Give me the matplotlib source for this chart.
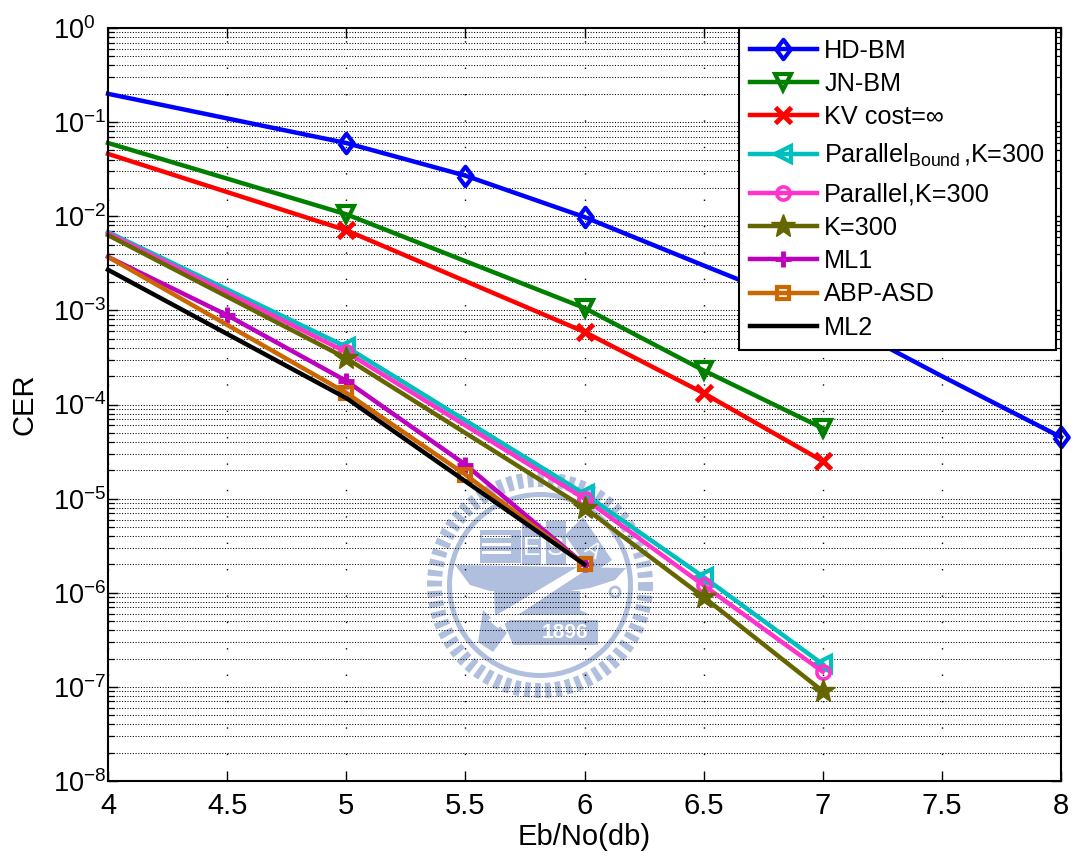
import numpy as np
import matplotlib
matplotlib.use('Agg')
import matplotlib.pyplot as plt
from matplotlib.patches import Circle, Polygon, Wedge
from matplotlib.ticker import LogLocator, NullFormatter, FixedLocator

plt.rcParams['font.family'] = ['Liberation Sans', 'DejaVu Sans']
plt.rcParams['mathtext.fontset'] = 'custom'
plt.rcParams['mathtext.rm'] = 'Liberation Sans'

x_hd = [4, 5, 5.5, 6, 6.5, 7, 7.5, 8]
hd_bm = [0.2, 0.06, 0.027, 0.0098, 3.0e-3, 9.3e-4, 2.0e-4, 4.5e-5]
x_jn = [4, 5, 6, 6.5, 7]
jn_bm = [0.06, 0.0105, 0.00106, 2.3e-4, 5.6e-5]
kv = [0.046, 0.0071, 5.9e-4, 1.32e-4, 2.5e-5]
par_bound = [0.0068, 4.1e-4, 1.12e-5, 1.47e-6, 1.74e-7]
par_k300 = [0.0066, 3.6e-4, 1.0e-5, 1.2e-6, 1.45e-7]
k300 = [0.0063, 3.1e-4, 8.0e-6, 9.0e-7, 9.0e-8]
x_ml1 = [4, 4.5, 5, 5.5, 6]
ml1 = [0.0037, 8.9e-4, 1.78e-4, 2.3e-5, 2.0e-6]
x_abp = [4, 5, 5.5, 6]
abp = [0.0037, 1.33e-4, 1.8e-5, 2.0e-6]
x_ml2 = [4, 5, 6]
ml2 = [0.0027, 1.17e-4, 2.0e-6]
x_ticks = [4, 4.5, 5, 5.5, 6, 6.5, 7, 7.5, 8]
x_tick_labels = ['4', '4.5', '5', '5.5', '6', '6.5', '7', '7.5', '8']
y_ticks = [1e-8, 1e-7, 1e-6, 1e-5, 1e-4, 1e-3, 1e-2, 1e-1, 1]

DIAMOND = [(-0.75, 0), (0, 1), (0.75, 0), (0, -1), (-0.75, 0)]


def seal(fig):
    # school watermark, drawn in figure pixels
    c = '#b0bfdd'
    cx, cy = 540, 856 - 585

    def P(pts):
        return [(a, 856 - b) for a, b in pts]

    arts = []
    for ang in np.arange(0, 360, 5.6):
        arts.append(Wedge((cx, cy), 113, ang - 1.6, ang + 1.6, width=15, fc=c, ec='none'))
    arts.append(Circle((cx, cy), 90.5, fc='none', ec=c, lw=3.6))
    # book, blocks, diamond
    arts.append(Polygon(P([(480, 530), (521, 530), (521, 563), (480, 563)]), fc=c))
    arts.append(Polygon(P([(522, 523), (541, 523), (541, 565), (522, 565)]), fc=c))
    arts.append(Polygon(P([(546, 521), (566, 521), (566, 565), (546, 565)]), fc=c))
    arts.append(Polygon(P([(583, 517), (612, 560), (592, 574), (565, 535)]), fc=c))
    # anvil
    arts.append(Polygon(P([(455, 565), (626, 568), (615, 580), (590, 588), (570, 591), (490, 591), (470, 585)]), fc=c))
    arts.append(Polygon(P([(494, 591), (580, 591), (580, 610), (590, 615), (495, 615)]), fc=c))
    # hammer and 1896 plate
    arts.append(Polygon(P([(503, 620), (598, 620), (598, 645), (513, 645)]), fc=c))
    arts.append(Polygon(P([(483, 610), (507, 633), (493, 652), (478, 642)]), fc=c))
    arts.append(Circle((615, 856 - 592), 5, fc='none', ec=c, lw=2))
    for a in arts:
        a.set_transform(None)
        a.set_zorder(1)
        fig.add_artist(a)
    for pts in ([(584, 563), (592, 566), (498, 628), (488, 620)],
                [(482, 535), (511, 535), (511, 538), (482, 538)],
                [(482, 543), (511, 543), (511, 546), (482, 546)],
                [(482, 551), (511, 551), (511, 554), (482, 554)]):
        w = Polygon(P(pts), fc='white', ec='none', zorder=1.5)
        w.set_transform(None)
        fig.add_artist(w)
    fig.text(565 / 1074, 1 - 632 / 856, '1896', color='white', fontsize=15, fontweight='bold',
             ha='center', va='center', zorder=2)
    fig.text(532 / 1074, 1 - 548 / 856, 'E', color='white', fontsize=19, ha='center', va='center', zorder=2)
    fig.text(556 / 1074, 1 - 548 / 856, 'S', color='white', fontsize=19, ha='center', va='center', zorder=2)
    fig.text(592 / 1074, 1 - 551 / 856, 'A', color='white', fontsize=16, rotation=-35,
             ha='center', va='center', zorder=2)


def main():
    fig = plt.figure(figsize=(10.74, 8.56), dpi=100)
    ax = fig.add_axes([108 / 1074, 1 - 781 / 856, 953 / 1074, 753 / 856])
    ax.patch.set_alpha(0)
    seal(fig)
    ax.set_zorder(3)

    lw = 3.2
    ms = 11
    mew = 3
    ev = [1, 2, 3, 4]
    ax.plot(x_hd, hd_bm, color='#0000ff', lw=lw, marker=DIAMOND, ms=ms + 3, mfc='none', mew=mew,
            markevery=[1, 2, 3, 7], label='HD-BM')
    ax.plot(x_jn, jn_bm, color='#007f00', lw=lw, marker='v', ms=ms, mfc='none', mew=mew, markevery=ev, label='JN-BM')
    ax.plot(x_jn, kv, color='#ff0000', lw=lw, marker='x', ms=ms, mew=mew + 0.5, markevery=ev, label='KV cost=∞')
    ax.plot(x_jn, par_bound, color='#00bfbf', lw=lw, marker='<', ms=ms, mfc='none', mew=mew, markevery=ev,
            label=r'Parallel$_{\mathrm{Bound}\,}$,K=300')
    ax.plot(x_jn, par_k300, color='#ff33cc', lw=lw, marker='o', ms=9.5, mfc='none', mew=mew - 0.4, markevery=ev,
            label='Parallel,K=300')
    ax.plot(x_jn, k300, color='#666600', lw=lw, marker='*', ms=ms + 7, mew=1, markevery=ev, label='K=300')
    ax.plot(x_ml1, ml1, color='#bf00bf', lw=lw, marker='+', ms=ms, mew=mew + 0.5, markevery=ev, label='ML1')
    ax.plot(x_abp, abp, color='#cc6600', lw=lw, marker='s', ms=8, mfc='none', mew=mew, markevery=[1, 2, 3], label='ABP-ASD')
    ax.plot(x_ml2, ml2, color='black', lw=lw, label='ML2')
    for ln in ax.get_lines():
        ln.set_clip_on(False)

    ax.set_yscale('log')
    ax.set_xlim(4, 8)
    ax.set_ylim(1e-8, 1)
    ax.xaxis.set_major_locator(FixedLocator(x_ticks))
    ax.set_xticklabels(x_tick_labels)
    ax.yaxis.set_major_locator(FixedLocator(y_ticks))
    ax.yaxis.set_minor_locator(LogLocator(base=10, subs=np.arange(2, 10), numticks=12))
    ax.yaxis.set_minor_formatter(NullFormatter())
    ax.grid(True, which='major', axis='y', color='black', ls=(0, (1, 1.6)), lw=0.75)
    ax.grid(True, which='minor', axis='y', color='black', ls=(0, (1, 1.6)), lw=0.75)
    ax.grid(True, which='major', axis='x', color='black', ls=(0, (1, 18)), lw=1)
    ax.set_axisbelow(True)
    ax.tick_params(axis='x', which='major', direction='in', length=7, width=1.0, labelsize=21, top=True, pad=8)
    ax.tick_params(axis='y', which='major', direction='in', length=7, width=1.0, labelsize=19.5, right=True, pad=39.6)
    ax.tick_params(axis='y', which='minor', direction='in', length=4, width=0.9, right=True)
    for lab in ax.get_yticklabels():
        lab.set_ha('left')
    for s in ax.spines.values():
        s.set_linewidth(1.5)
    ax.set_xlabel('Eb/No(db)', fontsize=21, labelpad=2)
    ax.set_ylabel('CER', fontsize=21)
    ax.yaxis.set_label_coords((39 - 108) / 953, 0.5)

    leg = ax.legend(loc='upper left', bbox_to_anchor=(739 / 1074, 1 - 28 / 856), bbox_transform=fig.transFigure,
                    borderaxespad=0, fontsize=18.2, fancybox=False, framealpha=1, edgecolor='black',
                    labelspacing=0.37, handlelength=2.65, handletextpad=0.3, borderpad=0.42)
    leg.get_frame().set_linewidth(1.5)
    leg.set_zorder(10)
    # the row with the subscript sits further from its neighbours
    rows = leg._legend_handle_box.get_children()[0].get_children()
    box = rows[3].get_children()[0]
    box.height += 12
    box.ydescent += 7.5

    fig.savefig('out.png', dpi=100)


if __name__ == "__main__":
    main()
